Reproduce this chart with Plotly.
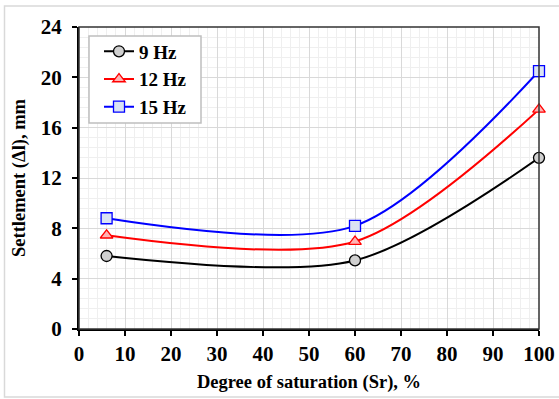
import plotly.graph_objects as go

sr = [6, 60, 100]
s9 = [5.8, 5.45, 13.6]
s12 = [7.45, 6.95, 17.45]
s15 = [8.8, 8.2, 20.5]
names = ["9 Hz", "12 Hz", "15 Hz"]
line_colors = ["#000000", "#ff0000", "#0000ff"]
fill_colors = ["#d0d0d0", "#ffb3b3", "#dae3f3"]
symbols = ["circle", "triangle-up", "square"]

FONT = "Liberation Serif"

fig = go.Figure()
for i, ys in enumerate([s9, s12, s15]):
    fig.add_trace(go.Scatter(
        x=sr, y=ys, name=names[i], legendgroup=names[i],
        mode="lines+markers",
        line=dict(color=line_colors[i], width=2, shape="spline", smoothing=0.85),
        marker=dict(symbol=symbols[i], size=11, color=fill_colors[i],
                    line=dict(color=line_colors[i], width=1.3)),
        cliponaxis=False,
    ))

axis_common = dict(
    showline=True, linecolor="#000000", linewidth=2, mirror=False,
    ticks="outside", tickcolor="#000000", ticklen=5, tickwidth=2,
    showgrid=True, gridcolor="#d9d9d9", gridwidth=1,
    zeroline=False, automargin=False,
    tickfont=dict(family=FONT, size=21, color="#000000", weight="bold"),
)

fig.update_xaxes(
    range=[0, 100], tick0=0, dtick=10,
    minor=dict(dtick=2, showgrid=True, gridcolor="#efefef", gridwidth=1),
    title=dict(text="<b>Degree of saturation (Sr), %</b>", standoff=10,
               font=dict(family=FONT, size=18.5, color="#000000")),
    **axis_common,
)
fig.update_yaxes(
    range=[0, 24], tick0=0, dtick=4,
    minor=dict(dtick=0.8, showgrid=True, gridcolor="#efefef", gridwidth=1),
    title=dict(text="<b>Settlement (Δl), mm</b>", standoff=10,
               font=dict(family=FONT, size=18.5, color="#000000")),
    ticklabelstandoff=6,
    **axis_common,
)

# top/right plot border
fig.add_shape(type="rect", xref="paper", yref="paper", x0=0, x1=1, y0=0, y1=1,
              line=dict(color="#333333", width=1.5), layer="above")
# outer chart border
fig.add_shape(type="rect", xref="paper", yref="paper",
              x0=(4.5 - 79) / 460, x1=(575 - 79) / 460,
              y0=(329 - 397) / 302, y1=(329 - 6) / 302,
              line=dict(color="#d9d9d9", width=1.5), layer="below")
# legend box
fig.add_shape(type="rect", xref="paper", yref="paper",
              x0=(89 - 79) / 460, x1=(201 - 79) / 460,
              y0=(329 - 123) / 302, y1=(329 - 36) / 302,
              line=dict(color="#bfbfbf", width=1.5), fillcolor="white",
              layer="above")

fig.update_layout(
    width=559, height=399,
    margin=dict(l=79, r=20, t=27, b=70),
    paper_bgcolor="white", plot_bgcolor="white",
    font=dict(family=FONT, color="#000000"),
    legend=dict(
        x=(99 - 79) / 460, y=0.982, xanchor="left", yanchor="top",
        bgcolor="rgba(0,0,0,0)", borderwidth=0,
        font=dict(family=FONT, size=19, color="#000000", weight="bold"),
        tracegroupgap=0, itemwidth=30,
    ),
    showlegend=True,
)

fig.write_html("out.html")
